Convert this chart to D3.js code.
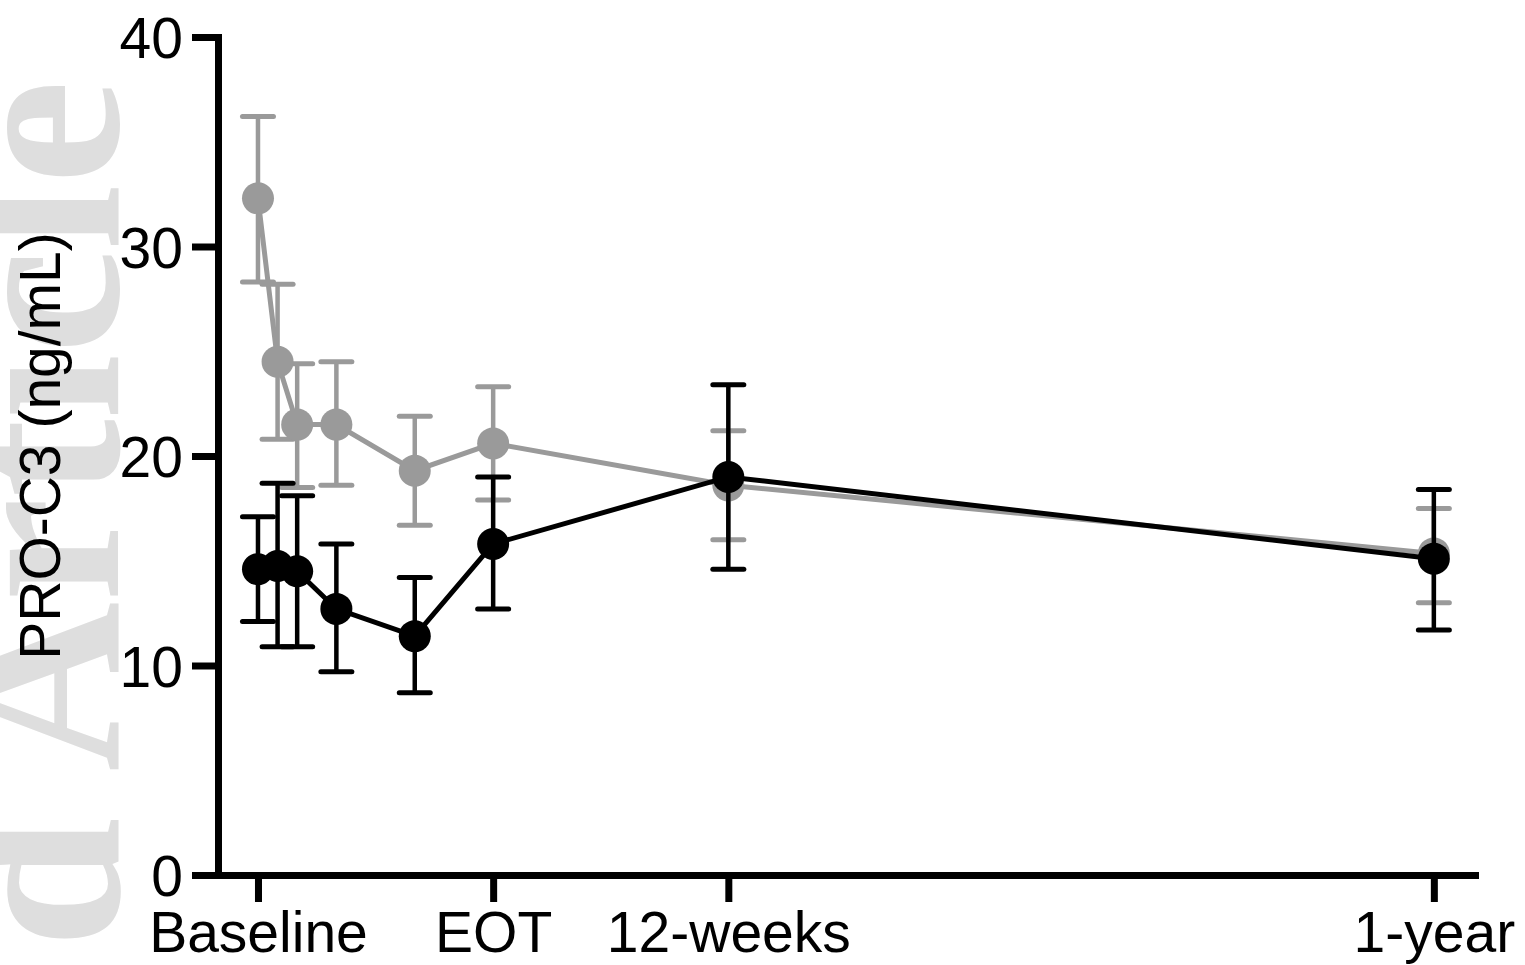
<!DOCTYPE html>
<html>
<head>
<meta charset="utf-8">
<script src="https://cdn.jsdelivr.net/npm/d3@7"></script>
<style>
  html, body { margin: 0; padding: 0; background: #fff; }
  svg { display: block; }
</style>
</head>
<body>
<svg id="chart" width="1525" height="965"></svg>
<script>
// ---- Data ----
const weeks = [0, 1, 2, 4, 8, 12, 24, 60];
const grayMean  = [32.3, 24.5, 21.5, 21.5, 19.3, 20.6, 18.6, 15.35];
const grayUpper = [36.2, 28.2, 24.4, 24.5, 21.9, 23.3, 21.2, 17.5];
const grayLower = [28.3, 20.8, 18.5, 18.6, 16.7, 17.9, 16.0, 13.0];
const blackMean  = [14.6, 14.75, 14.5, 12.7, 11.4, 15.8, 19.0, 15.1];
const blackUpper = [17.1, 18.7, 18.1, 15.8, 14.2, 19.0, 23.4, 18.4];
const blackLower = [12.1, 10.9, 10.9, 9.7, 8.7, 12.7, 14.6, 11.7];
const xTickValues = [0, 12, 24, 60];
const xTickLabels = ["Baseline", "EOT", "12-weeks", "1-year"];
const yTickValues = [0, 10, 20, 30, 40];
const yTitle = "PRO-C3 (ng/mL)";
const watermark = "d Article";

const svg = d3.select("#chart");
const FONT = "'Liberation Sans', Arial, Helvetica, sans-serif";

// watermark
svg.append("text")
  .attr("transform", "translate(118,80) rotate(-90)")
  .attr("text-anchor", "end")
  .attr("font-family", "'Liberation Serif', 'Times New Roman', serif")
  .attr("font-weight", "bold")
  .attr("font-size", 235)
  .attr("fill", "#dedede")
  .text(watermark);

const x = d3.scaleLinear().domain([-2.04, 62.1]).range([218, 1475]);
const y = d3.scaleLinear().domain([0, 40]).range([875, 37]);

// axes
const yAxis = svg.append("g")
  .attr("transform", "translate(218,0)")
  .call(d3.axisLeft(y).tickValues(yTickValues).tickSize(26).tickSizeOuter(0).tickPadding(9));
const xAxis = svg.append("g")
  .attr("transform", "translate(0,875)")
  .call(d3.axisBottom(x).tickValues(xTickValues).tickFormat((d, i) => xTickLabels[i])
        .tickSize(27).tickSizeOuter(0).tickPadding(10));

[yAxis, xAxis].forEach(g => {
  g.selectAll("path.domain").attr("stroke", "#000").attr("stroke-width", 7).attr("stroke-linecap", "square");
  g.selectAll(".tick line").attr("stroke", "#000").attr("stroke-width", 7);
  g.selectAll(".tick text").attr("fill", "#000").attr("font-family", FONT).attr("font-size", 57);
});
yAxis.selectAll(".tick text").attr("dy", "0.36em");

// y title
svg.append("text")
  .attr("transform", "translate(60,446) rotate(-90)")
  .attr("text-anchor", "middle")
  .attr("font-family", FONT)
  .attr("font-size", 57)
  .attr("fill", "#000")
  .text(yTitle);

// series
function drawSeries(mean, upper, lower, color) {
  const g = svg.append("g");
  const pts = weeks.map((w, i) => ({ w, m: mean[i], u: upper[i], l: lower[i] }));
  g.append("path")
    .datum(pts)
    .attr("fill", "none")
    .attr("stroke", color)
    .attr("stroke-width", 5)
    .attr("d", d3.line().x(d => x(d.w)).y(d => y(d.m)));
  g.selectAll("line.err").data(pts).enter().append("line")
    .attr("x1", d => x(d.w)).attr("x2", d => x(d.w))
    .attr("y1", d => y(d.l)).attr("y2", d => y(d.u))
    .attr("stroke", color).attr("stroke-width", 4.5);
  ["u", "l"].forEach(k => {
    g.selectAll("line.cap" + k).data(pts).enter().append("line")
      .attr("x1", d => x(d.w) - 15.5).attr("x2", d => x(d.w) + 15.5)
      .attr("y1", d => y(d[k])).attr("y2", d => y(d[k]))
      .attr("stroke", color).attr("stroke-width", 5).attr("stroke-linecap", "round");
  });
  g.selectAll("circle").data(pts).enter().append("circle")
    .attr("cx", d => x(d.w)).attr("cy", d => y(d.m)).attr("r", 16)
    .attr("fill", color);
}
drawSeries(grayMean, grayUpper, grayLower, "#9a9a9a");
drawSeries(blackMean, blackUpper, blackLower, "#000000");
</script>
</body>
</html>
